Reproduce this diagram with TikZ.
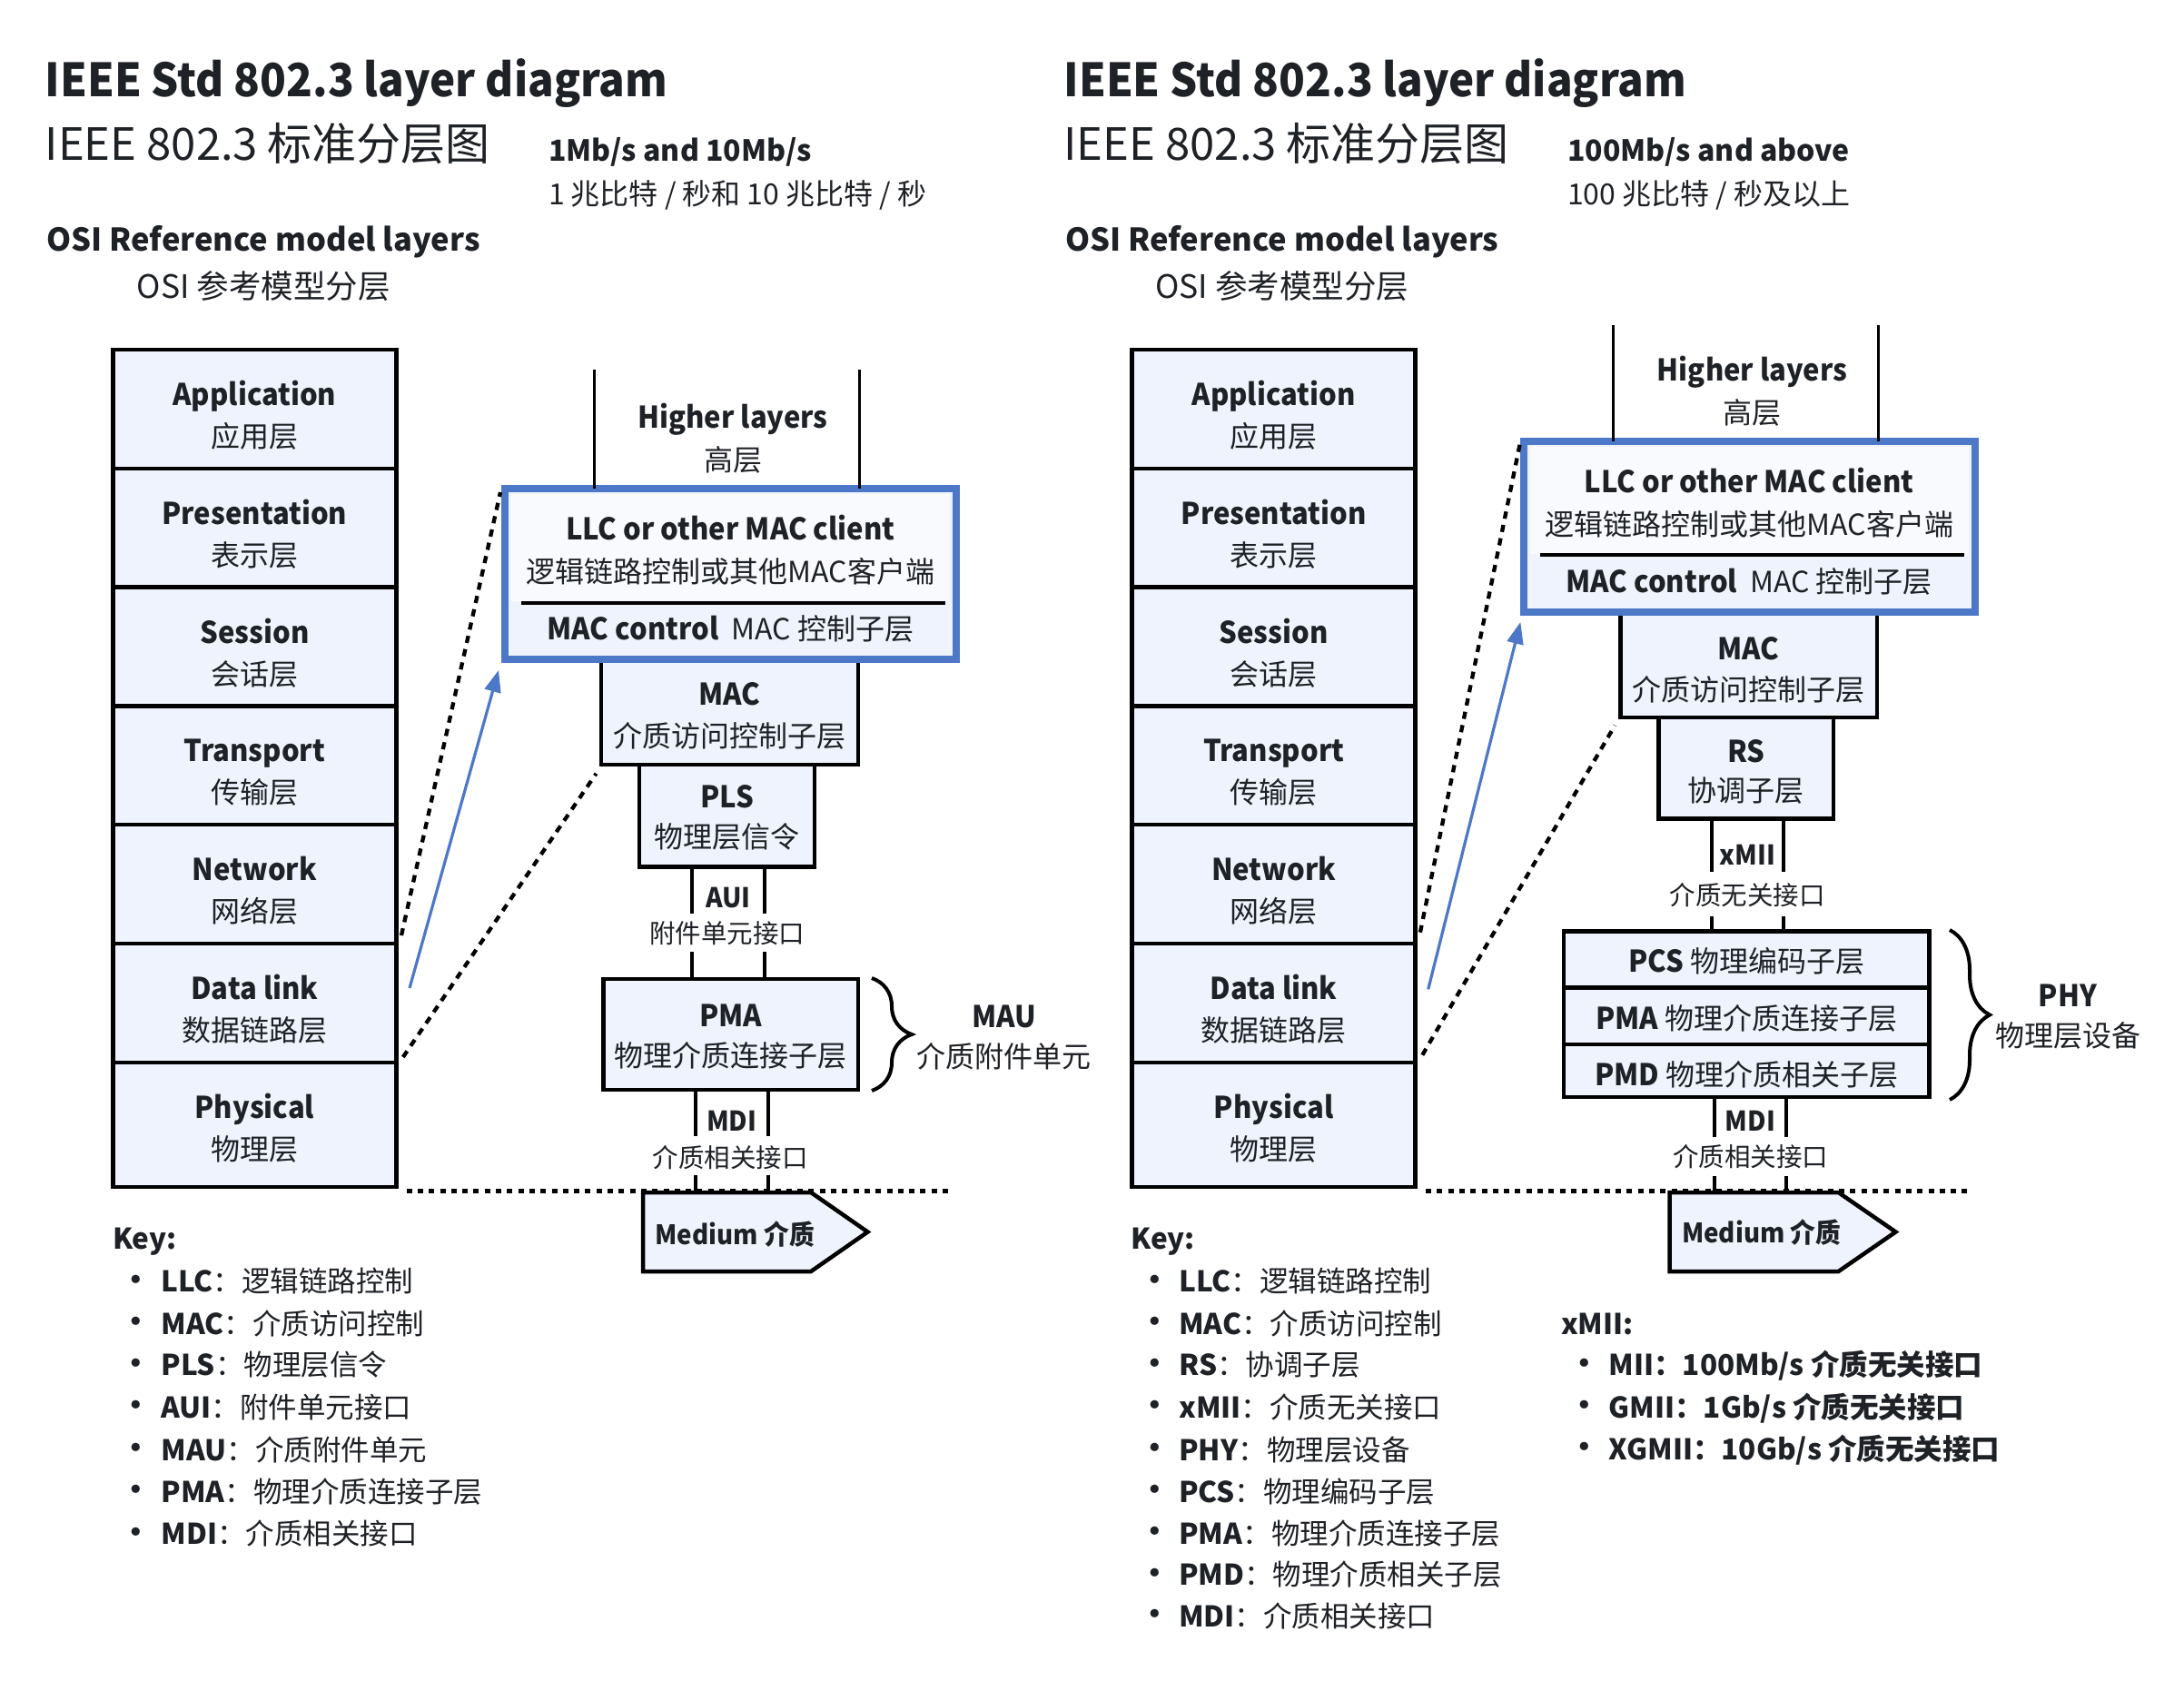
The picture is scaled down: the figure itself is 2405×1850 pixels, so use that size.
\documentclass[tikz,border=0pt]{standalone}
\usepackage{fontspec}
\setmainfont{Noto Sans CJK SC}
\newfontfamily\nb{Noto Sans CJK SC}[FakeStretch=0.94]
\newfontfamily\dvs{DejaVu Sans}
\usetikzlibrary{calc,arrows.meta,decorations.pathreplacing}
\definecolor{boxfill}{HTML}{EEF3FD}
\definecolor{upfill}{HTML}{F8FAFE}
\definecolor{llcblue}{HTML}{4D77C7}
\definecolor{ink}{HTML}{1E2125}
\newcommand\fsz[1]{\fontsize{#1pt}{#1pt}\selectfont}
\begin{document}
\begin{tikzpicture}[x=1pt,y=-1pt,
 lay/.style={draw=black, line width=4.5pt, fill=boxfill, inner sep=0pt, outer sep=0pt, anchor=north west},
 llcb/.style={draw=llcblue, line width=8pt, fill=boxfill, inner sep=0pt, outer sep=0pt, anchor=north west},
 txt/.style={inner sep=0pt, outer sep=0pt, text=ink, anchor=base},
 txl/.style={txt, anchor=base west},
 en/.style={txt, font=\fsz{33}\nb\bfseries},
 cn/.style={txt, font=\fsz{32}},
 ien/.style={txt, font=\fsz{30}\nb\bfseries},
 icn/.style={txt, font=\fsz{28.5}},
 hline/.style={line width=3pt},
 iface/.style={line width=4pt},
 dashc/.style={line width=4.3pt, dash pattern=on 8pt off 7pt},
 dotl/.style={line width=5pt, dash pattern=on 6pt off 6.3pt},
 barrow/.style={draw=llcblue, line width=3.2pt, -{Triangle[length=24pt,width=18pt]}},
 brc/.style={decorate, decoration={brace, amplitude=44pt}, line width=4pt},
 keyh/.style={txl, font=\fsz{31.5}\bfseries},
 keyi/.style={txl, font=\fsz{31.5}},
 bul/.style={txl, font=\fsz{31.5}\dvs},
]
\fill[white] (0,0) rectangle (2405,1850);
\useasboundingbox (0,0) rectangle (2405,1850);

% ---------------- LEFT DIAGRAM ----------------
\node[txl, font=\fsz{50.5}\nb\bfseries] (ttlA) at (49.7,106) {IEEE Std 802.3 layer diagram};
\node[txl, font=\fsz{49}] (ttlAcn) at (49.7,176) {IEEE 802.3 标准分层图};
\node[txl, font=\fsz{32}\bfseries] (spdA) at (604,177.7) {1Mb/s and 10Mb/s};
\node[txl, font=\fsz{32}] (spdAcn) at (604,225.4) {1 兆比特 / 秒和 10 兆比特 / 秒};
\node[txl, font=\fsz{34.5}\bfseries] (osiA) at (51.3,276) {OSI Reference model layers};
\node[txl, font=\fsz{35.5}] (osiAcn) at (150.7,328) {OSI 参考模型分层};

\newcommand\osirow[6]{%
 \node[lay, minimum width=312, minimum height=#4] (#1) at (#2,#3) {};
 \node[en] (#1en) at ($(#1.north)+(0,61.5)$) {#5};
 \node[cn] (#1cn) at ($(#1.north)+(0,107.5)$) {#6};}
\osirow{appA}{124.4}{385}{130.8}{Application}{应用层}
\osirow{preA}{124.4}{515.8}{130.8}{Presentation}{表示层}
\osirow{sesA}{124.4}{646.6}{130.8}{Session}{会话层}
\osirow{traA}{124.4}{777.4}{130.8}{Transport}{传输层}
\osirow{netA}{124.4}{908.2}{130.8}{Network}{网络层}
\osirow{dlA}{124.4}{1039}{130.8}{Data link}{数据链路层}
\osirow{phyA}{124.4}{1169.8}{137.2}{Physical}{物理层}

% medium line and medium
\coordinate (dotAl) at (447.6,1311.6);
\coordinate (dotAr) at (1046.7,1311.6);
\draw[dotl] (dotAl) -- (dotAr);

% MAC, PLS, PMA
\node[lay, minimum width=283, minimum height=115.8] (macA) at (662,726) {};
\node[lay, minimum width=193, minimum height=112.9] (plsA) at (704,841.8) {};
\node[lay, minimum width=280.4, minimum height=122.1] (pmaA) at (664.6,1077.9) {};
\node[en] (macAen) at (803.5,776.8) {MAC};
\node[cn] (macAcn) at (803.5,822.5) {介质访问控制子层};
\node[en] (plsAen) at (800.5,889.7) {PLS};
\node[cn] (plsAcn) at (800.5,933) {物理层信令};
\node[en] (pmaAen) at (804.8,1130.8) {PMA};
\node[cn] (pmaAcn) at (804.8,1174.5) {物理介质连接子层};

% LLC box
\node[llcb, minimum width=496.6, minimum height=188.4] (llcA) at (556,538) {};
\fill[upfill] (563,544) rectangle (1046,662);
\draw[line width=4pt] (574,663.8) -- (1040.6,663.8);
\node[en] (llcAen) at (804.3,594) {LLC or other MAC client};
\node[cn] (llcAcn) at (804.3,641) {逻辑链路控制或其他MAC客户端};
\node[txt, font=\fsz{32}] (mcAen) at (804.3,704.3) {{\fsz{33}\nb\bfseries MAC control}\hspace{14pt}MAC 控制子层};

% higher layers
\coordinate (hA1) at (654,407);
\coordinate (hA2) at (946.5,407);
\draw[hline] (hA1) -- (hA1 |- llcA.north);
\draw[hline] (hA2) -- (hA2 |- llcA.north);
\node[en] (hlAen) at (807,471) {Higher layers};
\node[cn] (hlAcn) at (807,518) {高层};

% AUI
\coordinate (auiA1) at (762,0);
\coordinate (auiA2) at (842,0);
\coordinate (auiAgt) at (0,1006);
\coordinate (auiAgb) at (0,1048);
\draw[iface] (auiA1 |- plsA.south) -- (auiA1 |- auiAgt);
\draw[iface] (auiA1 |- auiAgb) -- (auiA1 |- pmaA.north);
\draw[iface] (auiA2 |- plsA.south) -- (auiA2 |- auiAgt);
\draw[iface] (auiA2 |- auiAgb) -- (auiA2 |- pmaA.north);
\node[ien] (auiAen) at (802,999) {AUI};
\node[icn] (auiAcn) at (800.7,1038) {附件单元接口};

% MDI
\coordinate (mdiA1) at (766,0);
\coordinate (mdiA2) at (845.5,0);
\coordinate (mdiAgt) at (0,1251);
\coordinate (mdiAgb) at (0,1294);
\coordinate (medA) at (708,1313);
\draw[iface] (mdiA1 |- pmaA.south) -- (mdiA1 |- mdiAgt);
\draw[iface] (mdiA1 |- mdiAgb) -- (mdiA1 |- medA);
\draw[iface] (mdiA2 |- pmaA.south) -- (mdiA2 |- mdiAgt);
\draw[iface] (mdiA2 |- mdiAgb) -- (mdiA2 |- medA);
\node[ien] (mdiAen) at (805.75,1245.5) {MDI};
\node[icn] (mdiAcn) at (804,1285) {介质相关接口};

\draw[line width=4.5pt, fill=boxfill] (medA) -- ++(185,0) -- ++(62.5,43.5) -- ++(-62.5,43.5) -- ++(-185,0) -- cycle;
\node[txl, font=\fsz{29.5}\nb\bfseries] (medAt) at (721.5,1370) {Medium 介质};

% MAU brace
\coordinate (brA1) at (960,1077);
\coordinate (brA2) at (960,1201);
\draw[brc] (brA1) -- (brA2);
\node[en] (mauAen) at (1105.6,1131) {MAU};
\node[cn] (mauAcn) at (1105.6,1175) {介质附件单元};

% connectors
\draw[dashc] ($(dlA.north east)+(5.6,-9)$) -- ($(llcA.north west)+(-5,4)$);
\draw[dashc] ($(dlA.south east)+(7.4,-5.8)$) -- ($(macA.south west)+(-5.5,10)$);
\draw[barrow] ($(dlA.east)+(14.6,-16.4)$) -- ($(llcA.south west)+(-7,11.6)$);

% key
\newcommand\keyitem[5]{%
 \node[bul] (#1b) at (#2,#4-2.5) {•};
 \node[keyi] (#1) at (#3,#4) {#5};}
\node[keyh] (keyA) at (124,1375) {Key:};
\keyitem{kA1}{140.5}{177.5}{1422.8}{\textbf{LLC}：逻辑链路控制}
\keyitem{kA2}{140.5}{177.5}{1469}{\textbf{MAC}：介质访问控制}
\keyitem{kA3}{140.5}{177.5}{1514.7}{\textbf{PLS}：物理层信令}
\keyitem{kA4}{140.5}{177.5}{1561}{\textbf{AUI}：附件单元接口}
\keyitem{kA5}{140.5}{177.5}{1608}{\textbf{MAU}：介质附件单元}
\keyitem{kA6}{140.5}{177.5}{1654}{\textbf{PMA}：物理介质连接子层}
\keyitem{kA7}{140.5}{177.5}{1700.7}{\textbf{MDI}：介质相关接口}

% ---------------- RIGHT DIAGRAM ----------------
\node[txl, font=\fsz{50.5}\nb\bfseries] (ttlB) at (1171.5,106) {IEEE Std 802.3 layer diagram};
\node[txl, font=\fsz{49}] (ttlBcn) at (1171.5,176) {IEEE 802.3 标准分层图};
\node[txl, font=\fsz{32}\bfseries] (spdB) at (1726,177.7) {100Mb/s and above};
\node[txl, font=\fsz{32}] (spdBcn) at (1726,225.4) {100 兆比特 / 秒及以上};
\node[txl, font=\fsz{34.5}\bfseries] (osiB) at (1173,276) {OSI Reference model layers};
\node[txl, font=\fsz{35.5}] (osiBcn) at (1272.4,328) {OSI 参考模型分层};

\osirow{appB}{1246.6}{385}{130.8}{Application}{应用层}
\osirow{preB}{1246.6}{515.8}{130.8}{Presentation}{表示层}
\osirow{sesB}{1246.6}{646.6}{130.8}{Session}{会话层}
\osirow{traB}{1246.6}{777.4}{130.8}{Transport}{传输层}
\osirow{netB}{1246.6}{908.2}{130.8}{Network}{网络层}
\osirow{dlB}{1246.6}{1039}{130.8}{Data link}{数据链路层}
\osirow{phyB}{1246.6}{1169.8}{137.2}{Physical}{物理层}

\coordinate (dotBl) at (1570,1311.6);
\coordinate (dotBr) at (2170.5,1311.6);
\draw[dotl] (dotBl) -- (dotBr);

\node[lay, minimum width=282.5, minimum height=116] (macB) at (1784.3,674) {};
\node[lay, minimum width=192.1, minimum height=111.7] (rsB) at (1826.7,790) {};
\node[en] (macBen) at (1925.5,726) {MAC};
\node[cn] (macBcn) at (1925.5,771) {介质访问控制子层};
\node[en] (rsBen) at (1922.75,839) {RS};
\node[cn] (rsBcn) at (1922.75,882) {协调子层};

\node[llcb, minimum width=496.5, minimum height=188.4] (llcB) at (1678,485.8) {};
\fill[upfill] (1685,492) rectangle (2168,610);
\draw[line width=4pt] (1696,611.25) -- (2162.8,611.25);
\node[en] (llcBen) at (1926.2,542.5) {LLC or other MAC client};
\node[cn] (llcBcn) at (1926.2,589.3) {逻辑链路控制或其他MAC客户端};
\node[txt, font=\fsz{32}] (mcBen) at (1926.2,652.6) {{\fsz{33}\nb\bfseries MAC control}\hspace{14pt}MAC 控制子层};

\coordinate (hB1) at (1776,357.7);
\coordinate (hB2) at (2068,357.7);
\draw[hline] (hB1) -- (hB1 |- llcB.north);
\draw[hline] (hB2) -- (hB2 |- llcB.north);
\node[en] (hlBen) at (1929.6,419) {Higher layers};
\node[cn] (hlBcn) at (1929.6,466) {高层};

% PHY stack
\node[lay, minimum width=402.6, minimum height=62.4] (pcsB) at (1721.9,1025.3) {};
\node[lay, minimum width=402.6, minimum height=62.3] (pmaB) at (1721.9,1087.7) {};
\node[lay, minimum width=402.6, minimum height=58] (pmdB) at (1721.9,1150) {};
\node[txt, font=\fsz{32}] (pcsBt) at (1923.2,1070) {{\fsz{33}\nb\bfseries PCS} 物理编码子层};
\node[txt, font=\fsz{32}] (pmaBt) at (1923.2,1133) {{\fsz{33}\nb\bfseries PMA} 物理介质连接子层};
\node[txt, font=\fsz{32}] (pmdBt) at (1923.2,1195) {{\fsz{33}\nb\bfseries PMD} 物理介质相关子层};

% xMII
\coordinate (xmB1) at (1884.8,0);
\coordinate (xmB2) at (1964,0);
\coordinate (xmBgt) at (0,959.5);
\coordinate (xmBgb) at (0,1008.6);
\draw[iface] (xmB1 |- rsB.south) -- (xmB1 |- xmBgt);
\draw[iface] (xmB1 |- xmBgb) -- (xmB1 |- pcsB.north);
\draw[iface] (xmB2 |- rsB.south) -- (xmB2 |- xmBgt);
\draw[iface] (xmB2 |- xmBgb) -- (xmB2 |- pcsB.north);
\node[ien] (xmBen) at (1924.4,952.8) {xMII};
\node[icn] (xmBcn) at (1924.4,996.5) {介质无关接口};

% MDI
\coordinate (mdiB1) at (1888,0);
\coordinate (mdiB2) at (1967,0);
\coordinate (mdiBgt) at (0,1251.7);
\coordinate (mdiBgb) at (0,1295);
\coordinate (medB) at (1838.7,1313);
\draw[iface] (mdiB1 |- pmdB.south) -- (mdiB1 |- mdiBgt);
\draw[iface] (mdiB1 |- mdiBgb) -- (mdiB1 |- medB);
\draw[iface] (mdiB2 |- pmdB.south) -- (mdiB2 |- mdiBgt);
\draw[iface] (mdiB2 |- mdiBgb) -- (mdiB2 |- medB);
\node[ien] (mdiBen) at (1927.5,1245) {MDI};
\node[icn] (mdiBcn) at (1927.5,1284) {介质相关接口};

\draw[line width=4.5pt, fill=boxfill] (medB) -- ++(185.7,0) -- ++(63.1,43.5) -- ++(-63.1,43.5) -- ++(-185.7,0) -- cycle;
\node[txl, font=\fsz{29.5}\nb\bfseries] (medBt) at (1852,1368) {Medium 介质};

% PHY brace
\coordinate (brB1) at (2147,1024);
\coordinate (brB2) at (2147,1211);
\draw[brc] (brB1) -- (brB2);
\node[en] (phyLen) at (2277,1108) {PHY};
\node[cn] (phyLcn) at (2277,1152) {物理层设备};

% connectors
\draw[dashc] ($(dlB.north east)+(5.3,-12.3)$) -- ($(llcB.north west)+(-3.7,0.2)$);
\draw[dashc] ($(dlB.south east)+(7.7,-8.1)$) -- ($(macB.south west)+(-6,8.75)$);
\draw[barrow] ($(dlB.east)+(14.1,-15.1)$) -- ($(llcB.south west)+(-3.7,10.8)$);

% key
\node[keyh] (keyB) at (1245.6,1375.4) {Key:};
\keyitem{kB1}{1262}{1298.2}{1422.8}{\textbf{LLC}：逻辑链路控制}
\keyitem{kB2}{1262}{1298.2}{1469}{\textbf{MAC}：介质访问控制}
\keyitem{kB3}{1262}{1298.2}{1514.7}{\textbf{RS}：协调子层}
\keyitem{kB4}{1262}{1298.2}{1561.3}{\textbf{xMII}：介质无关接口}
\keyitem{kB5}{1262}{1298.2}{1608}{\textbf{PHY}：物理层设备}
\keyitem{kB6}{1262}{1298.2}{1654}{\textbf{PCS}：物理编码子层}
\keyitem{kB7}{1262}{1298.2}{1700}{\textbf{PMA}：物理介质连接子层}
\keyitem{kB8}{1262}{1298.2}{1745.5}{\textbf{PMD}：物理介质相关子层}
\keyitem{kB9}{1262}{1298.2}{1791}{\textbf{MDI}：介质相关接口}

\node[keyh] (xmKey) at (1719,1469) {xMII:};
\keyitem{kC1}{1735.5}{1771.7}{1514.7}{\textbf{MII：100Mb/s 介质无关接口}}
\keyitem{kC2}{1735.5}{1771.7}{1561}{\textbf{GMII：1Gb/s 介质无关接口}}
\keyitem{kC3}{1735.5}{1771.7}{1607}{\textbf{XGMII：10Gb/s 介质无关接口}}
\end{tikzpicture}
\end{document}
